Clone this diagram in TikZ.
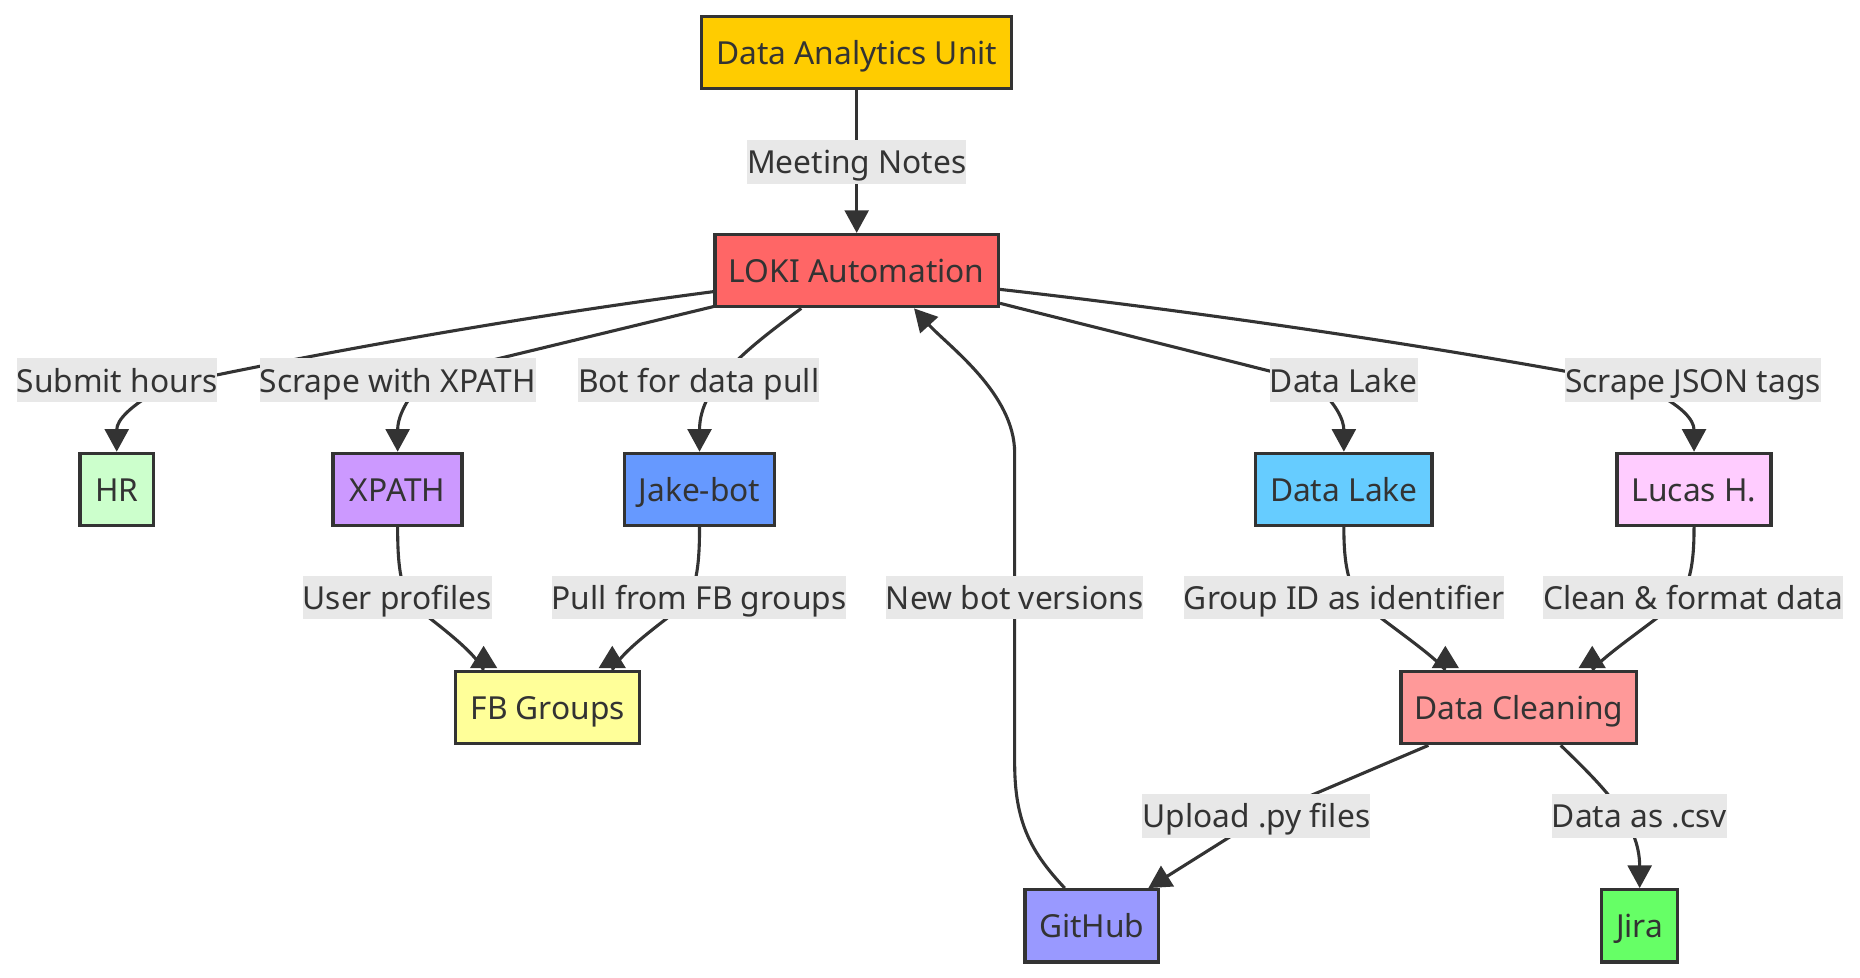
\documentclass[tikz,border=0pt]{standalone}
\usepackage{fontspec}
\setmainfont{Noto Sans}
\usetikzlibrary{arrows.meta,calc}
\definecolor{ink}{HTML}{333333}
\definecolor{lblbg}{HTML}{E8E8E8}
\definecolor{cDAU}{HTML}{FFCC00}
\definecolor{cLOKI}{HTML}{FF6666}
\definecolor{cHR}{HTML}{CCFFCC}
\definecolor{cXP}{HTML}{CC99FF}
\definecolor{cJB}{HTML}{6699FF}
\definecolor{cDL}{HTML}{66CCFF}
\definecolor{cLH}{HTML}{FFCCFF}
\definecolor{cFB}{HTML}{FFFF99}
\definecolor{cDC}{HTML}{FF9999}
\definecolor{cGH}{HTML}{9999FF}
\definecolor{cJI}{HTML}{66FF66}
\begin{document}
\begin{tikzpicture}[x=1pt,y=-1pt,
  font=\fontsize{26.6pt}{32pt}\selectfont, text=ink,
  box/.style={draw=ink, line width=2.8pt, minimum height=60.5pt, inner sep=0pt,
              text height=28.3pt, text depth=8.1pt},
  lbl/.style={fill=lblbg, inner xsep=0pt, inner ysep=0pt, text height=28.3pt, text depth=8.1pt},
  edge/.style={draw=ink, line width=2.6pt},
  arr/.style={-{Triangle[length=19pt,width=20pt]}},
  uptip/.style={fill=ink}
]
\useasboundingbox (0,0) rectangle (1560,820.25);

% boxes
\node[box, fill=cDAU, minimum width=260pt]   (dau)   at (718.5,44)     {Data Analytics Unit};
\node[box, fill=cLOKI, minimum width=237.6pt] (loki) at (718.5,227)    {LOKI Automation};
\node[box, fill=cHR, minimum width=61.4pt]    (hr)    at (97.9,410.5)  {HR};
\node[box, fill=cXP, minimum width=108.2pt]   (xpath) at (333.5,410.5) {XPATH};
\node[box, fill=cJB, minimum width=125.4pt]   (jake)  at (586.7,410.5) {Jake-bot};
\node[box, fill=cDL, minimum width=147.7pt]   (dlake) at (1127.1,410.5) {Data Lake};
\node[box, fill=cLH, minimum width=129.2pt]   (lucas) at (1420.8,410.5) {Lucas H.};
\node[box, fill=cFB, minimum width=154.4pt]   (fb)    at (459.4,593.5) {FB Groups};
\node[box, fill=cDC, minimum width=197.5pt]   (dc)    at (1273.8,593.5) {Data Cleaning};
\node[box, fill=cGH, minimum width=111.9pt]   (gh)    at (915.6,776.5) {GitHub};
\node[box, fill=cJI, minimum width=63.7pt]    (jira)  at (1375.2,776.5) {Jira};

% edges
\draw[edge,arr] (dau.south) -- (loki.north);
\draw[edge,arr] ($(loki.west)+(0,17.6)$) .. controls (420,268) and (260,298) .. (160,319)
   -- (135,326) .. controls (110,340) and (97.9,352) .. (hr.north);
\draw[edge,arr] ($(loki.south west)+(0,-1.5)$) -- (380,310) -- (350,325)
   .. controls (338,340) and (333.5,352) .. (xpath.north);
\draw[edge,arr] ($(loki.south)+(-46.5,0)$) .. controls (630,290) and (586.7,322) .. (jake.north);
\draw[edge,arr] ($(loki.east)+(0,27.4)$) -- (1100,320) -- (1105,325)
   .. controls (1120,338) and (1127.1,352) .. (dlake.north);
\draw[edge,arr] ($(loki.east)+(0,15.7)$) .. controls (1010,262) and (1200,290) .. (1360,320)
   -- (1385,328) .. controls (1410,340) and (1420.8,352) .. (lucas.north);

\draw[edge] (xpath.south) .. controls (333.5,475) and (336,488) .. (343,505)
   -- (347,508) .. controls (370,526) and (397,546) .. ($(fb.north)+(-53.8,0)$);
\draw[edge] (jake.south) .. controls (586.7,475) and (584,488) .. (577,505)
   -- (573,508) .. controls (550,526) and (522,546) .. ($(fb.north)+(54.1,0)$);
\draw[edge] (dlake.south) .. controls (1127.1,475) and (1131,488) .. (1140,505)
   -- (1145,508) .. controls (1170,528) and (1200,548) .. ($(dc.north)+(-61.6,0)$);
\draw[edge] (lucas.south) .. controls (1420.8,475) and (1417,488) .. (1408,505)
   -- (1403,508) .. controls (1378,528) and (1348,548) .. ($(dc.north)+(61.6,0)$);

\fill[uptip] ($(fb.north)+(-53.8,-1.4)$) ++(-11.5,0) -- ++(23,0) -- ++(-11.5,-18.8) -- cycle;
\fill[uptip] ($(fb.north)+(54.1,-1.4)$) ++(-11.5,0) -- ++(23,0) -- ++(-11.5,-18.8) -- cycle;
\fill[uptip] ($(dc.north)+(-61.6,-1.4)$) ++(-11.5,0) -- ++(23,0) -- ++(-11.5,-18.8) -- cycle;
\fill[uptip] ($(dc.north)+(61.6,-1.4)$) ++(-11.5,0) -- ++(23,0) -- ++(-11.5,-18.8) -- cycle;

\draw[edge,arr] ($(gh.north)+(-22.6,0)$) .. controls (865,715) and (851,690) .. (851,640)
   -- (851,380) .. controls (851,330) and (795,290) .. ($(loki.south)+(48.1,0)$);
\draw[edge,arr] ($(dc.south)+(-75.8,0)$) -- (1060,684) -- ($(gh.north)+(47.5,0)$);
\draw[edge,arr] ($(dc.south)+(35.2,0)$) .. controls (1345,660) and (1375.2,690) .. (jira.north);

% edge labels
\node[lbl] (lmeet)  at (718.5,135.7)  {Meeting Notes};
\node[lbl] (lsub)   at (98.1,318.7)   {Submit hours};
\node[lbl] (lscx)   at (333.7,318.7)  {Scrape with XPATH};
\node[lbl] (lbot)   at (586,318.7)    {Bot for data pull};
\node[lbl] (ldl)    at (1127,318.7)   {Data Lake};
\node[lbl] (lscj)   at (1420,318.7)   {Scrape JSON tags};
\node[lbl] (luser)  at (333.2,501.3)  {User profiles};
\node[lbl] (lpull)  at (586.3,501.3)  {Pull from FB groups};
\node[lbl] (lnew)   at (851,501.3)    {New bot versions};
\node[lbl] (lgid)   at (1127.3,501.3) {Group ID as identifier};
\node[lbl] (lclean) at (1420,501.3)   {Clean \& format data};
\node[lbl] (lup)    at (1053.7,684.3) {Upload .py files};
\node[lbl] (lcsv)   at (1374.9,684.3) {Data as .csv};
\end{tikzpicture}
\end{document}
